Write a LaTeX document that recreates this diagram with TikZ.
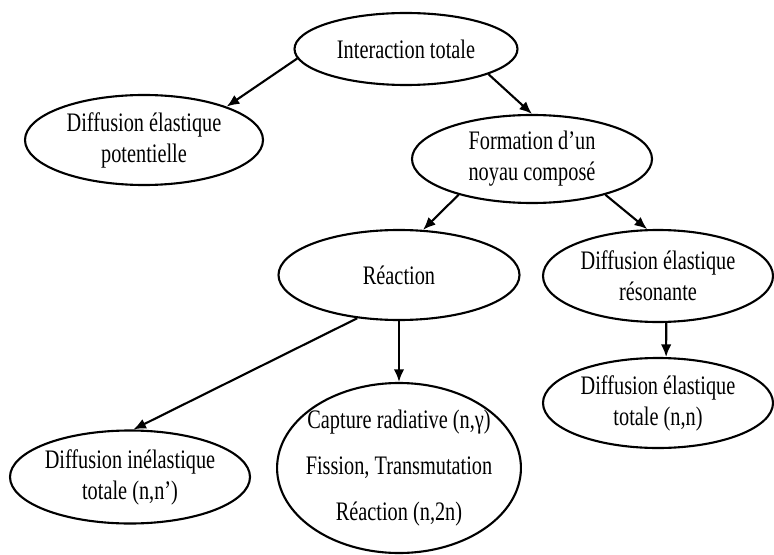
\documentclass[tikz,border=0pt]{standalone}
\usepackage{fontspec}
\setmainfont{Liberation Serif}[FakeStretch=0.76]
\usepackage{tikz}
\usetikzlibrary{shapes,arrows.meta,positioning}
\newcommand{\bubblefont}{\fontsize{19}{22}\selectfont}

\begin{document}
\begin{tikzpicture}[
    bubble/.style={draw, ellipse, line width=1.5pt, inner sep=0pt, align=center, font=\bubblefont},
    flow/.style={line width=1.5pt, -{Latex[length=9pt,width=7.5pt]}}
  ]
    \useasboundingbox (0,0) rectangle (19.35,13.85);

    % Top level
    \node[bubble, minimum width=5.575cm, minimum height=1.8cm] (inter) at (10.15,12.625) {Interaction totale};
    \node[bubble, minimum width=5.95cm, minimum height=2.25cm] (pot) at (3.6,10.35) {Diffusion élastique\\potentielle};
    \node[bubble, minimum width=6cm, minimum height=2.2cm] (form) at (13.3,9.875) {Formation d'un\\noyau composé};

    % Compound nucleus branches
    \node[bubble, minimum width=6.025cm, minimum height=2.25cm] (reac) at (9.975,6.975) {Réaction};
    \node[bubble, minimum width=5.75cm, minimum height=2.3cm] (reso) at (16.45,6.95) {Diffusion élastique\\résonante};

    % Bottom level
    \node[bubble, minimum width=5.75cm, minimum height=2.25cm] (tot) at (16.45,3.775) {Diffusion élastique\\totale (n,n)};
    \node[bubble, inner xsep=-5pt, minimum width=6.075cm, minimum height=4.25cm] (cap) at (9.975,2.15) {Capture radiative (n,γ)\\[11pt]Fission, Transmutation\\[11pt]Réaction (n,2n)};
    \node[bubble, inner xsep=-2pt, minimum width=6cm, minimum height=2.325cm] (inel) at (3.25,1.925) {Diffusion inélastique\\totale (n,n')};

    % Arrows
    \draw[flow] (inter.185) -- (pot.22);
    \draw[flow] (inter.343) -- (form.north);
    \draw[flow] (form.206) -- (reac.62);
    \draw[flow] (form.334) -- (reso.103);
    \draw[flow] (reac.south) -- (cap.north);
    \draw[flow] (reac.226) -- (inel.86);
    \draw[flow] (reso.280) -- (tot.80);
\end{tikzpicture}
\end{document}
